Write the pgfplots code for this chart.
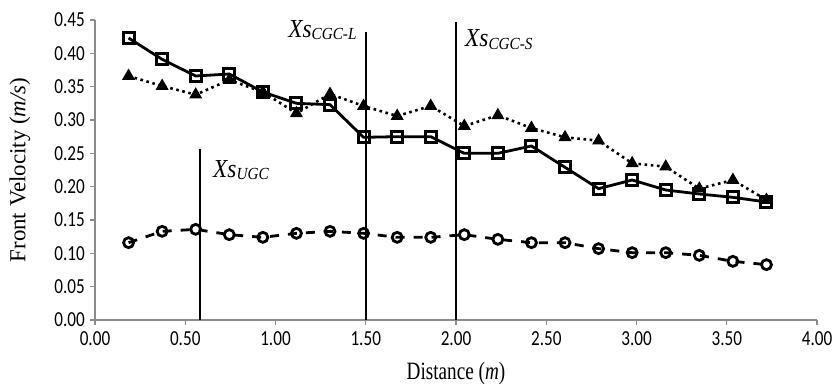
\documentclass[border=0pt]{standalone}
\usepackage{pgfplots}
\pgfplotsset{compat=1.18}
\usepackage{fontspec}
\setmainfont{Liberation Serif}
\newfontfamily\tickfont{Carlito}
\begin{document}
\begin{tikzpicture}
\path[use as bounding box] (-95bp,-67bp) rectangle (738bp,320bp);
\begin{axis}[
  at={(0,0)}, anchor=south west,
  scale only axis, width=722bp, height=300bp,
  xmin=0, xmax=4, ymin=0, ymax=0.45,
  axis x line=bottom, axis y line=left,
  axis line style={-, draw=black!45, line width=1.2bp},
  every tick/.style={draw=black!45, line width=1.2bp},
  tick align=outside, major tick length=5bp,
  xtick={0,0.5,1,1.5,2,2.5,3,3.5,4},
  ytick={0,0.05,0.1,0.15,0.2,0.25,0.3,0.35,0.4,0.45},
  ticklabel style={font=\tickfont\fontsize{21.5}{22}\selectfont, xscale=0.8},
  xticklabel style={yshift=-3bp},
  yticklabel style={xshift=-3bp},
  /pgf/number format/assume math mode=true,
  /pgf/number format/.cd, fixed, fixed zerofill, precision=2, /pgfplots/.cd,
  xlabel={\scalebox{0.77}[1]{Distance (\textit{m})}},
  ylabel={Front Velocity (\textit{m/s})},
  label style={font=\fontsize{25}{26}\selectfont},
  xlabel style={at={(axis description cs:0.5,0)}, anchor=north, yshift=-39bp},
  ylabel style={at={(axis description cs:-0.104,0.5)}, anchor=center, font=\fontsize{23}{24}\selectfont},
  clip=false,
]
% vertical markers
\addplot[black, line width=1.8bp] coordinates {(0.58,0) (0.58,0.256)};
\addplot[black, line width=1.8bp] coordinates {(1.50,0) (1.50,0.432)};
\addplot[black, line width=1.8bp] coordinates {(2.00,0) (2.00,0.447)};
% triangles (dotted)
\addplot[black, line width=2.6bp, dash pattern=on 2.6bp off 3.6bp,
  mark=triangle*, mark size=6.5bp, mark options={solid, fill=black, line width=1bp}] coordinates {
(0.186,0.366) (0.372,0.351) (0.558,0.338) (0.744,0.360) (0.930,0.342)
(1.116,0.310) (1.302,0.339) (1.488,0.321) (1.674,0.306) (1.860,0.321)
(2.046,0.291) (2.232,0.307) (2.418,0.288) (2.604,0.274) (2.790,0.269)
(2.976,0.235) (3.162,0.230) (3.348,0.197) (3.534,0.210) (3.720,0.180)};
% squares (solid)
\addplot[black, line width=2.8bp,
  mark=square, mark size=5.5bp, mark options={solid, line width=3bp, fill=white}] coordinates {
(0.186,0.423) (0.372,0.391) (0.558,0.366) (0.744,0.369) (0.930,0.342)
(1.116,0.325) (1.302,0.323) (1.488,0.274) (1.674,0.275) (1.860,0.275)
(2.046,0.250) (2.232,0.250) (2.418,0.261) (2.604,0.229) (2.790,0.197)
(2.976,0.210) (3.162,0.195) (3.348,0.189) (3.534,0.184) (3.720,0.177)};
% circles (dashed)
\addplot[black, line width=2.8bp, dash pattern=on 9bp off 9bp,
  mark=o, mark size=5bp, mark options={solid, line width=2.8bp}] coordinates {
(0.186,0.116) (0.372,0.133) (0.558,0.136) (0.744,0.128) (0.930,0.124)
(1.116,0.130) (1.302,0.133) (1.488,0.130) (1.674,0.124) (1.860,0.124)
(2.046,0.128) (2.232,0.121) (2.418,0.116) (2.604,0.116) (2.790,0.107)
(2.976,0.101) (3.162,0.101) (3.348,0.097) (3.534,0.088) (3.720,0.083)};
% labels
\node[anchor=base west, inner sep=0, xscale=0.9, font=\itshape\fontsize{26}{27}\selectfont]
  at (axis cs:0.654,0.2145) {Xs\raisebox{-0.25ex}{\fontsize{17}{17}\selectfont UGC}};
\node[anchor=base west, inner sep=0, xscale=0.9, font=\itshape\fontsize{26}{27}\selectfont]
  at (axis cs:1.07,0.4245) {Xs\raisebox{-0.25ex}{\fontsize{17}{17}\selectfont CGC-L}};
\node[anchor=base west, inner sep=0, xscale=0.9, font=\itshape\fontsize{26}{27}\selectfont]
  at (axis cs:2.05,0.41) {Xs\raisebox{-0.25ex}{\fontsize{17}{17}\selectfont CGC-S}};
\end{axis}
\end{tikzpicture}
\end{document}
